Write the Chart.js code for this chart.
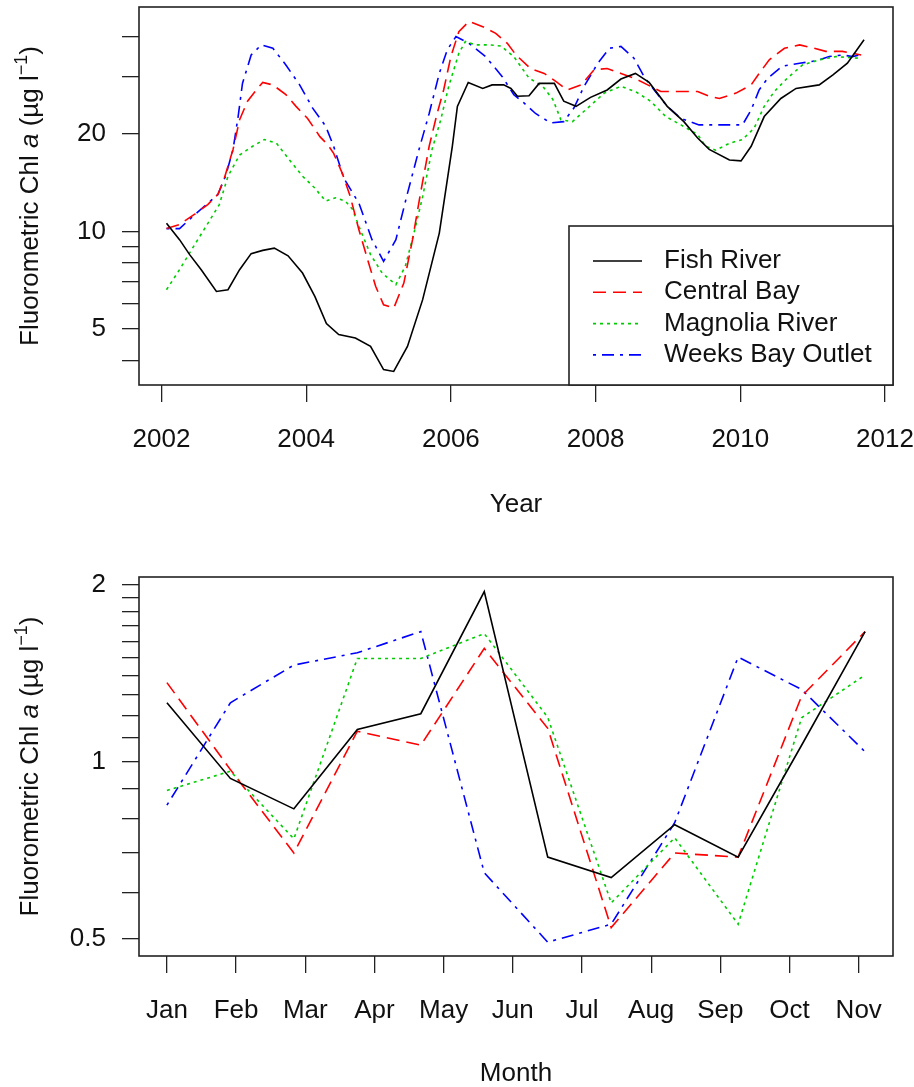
<!DOCTYPE html>
<html>
<head>
<meta charset="utf-8">
<script src="https://cdn.jsdelivr.net/npm/chart.js@4/dist/chart.umd.min.js"></script>
<style>
  body { margin: 0; background: #fff; }
  canvas { display: block; }
</style>
</head>
<body>
<canvas id="yearly" width="914" height="540"></canvas>
<canvas id="monthly" width="914" height="547"></canvas>
<script>
// ---- data ----
const fishYear  = [2002.07, 2002.25, 2002.39, 2002.55, 2002.76, 2002.92, 2003.08, 2003.24, 2003.40, 2003.56,
                   2003.75, 2003.95, 2004.12, 2004.28, 2004.45, 2004.68, 2004.89, 2005.07, 2005.21, 2005.40,
                   2005.61, 2005.84, 2006.02, 2006.09, 2006.24, 2006.44, 2006.57, 2006.73, 2006.83, 2006.92,
                   2007.08, 2007.22, 2007.43, 2007.56, 2007.73, 2007.93, 2008.16, 2008.35, 2008.55, 2008.74,
                   2008.99, 2009.22, 2009.41, 2009.57, 2009.85, 2010.01, 2010.15, 2010.33, 2010.56, 2010.77,
                   2011.09, 2011.28, 2011.48, 2011.71];
const fishChl   = [10.6, 9.43, 8.48, 7.62, 6.53, 6.61, 7.62, 8.54, 8.74, 8.88,
                   8.41, 7.44, 6.30, 5.2, 4.81, 4.69, 4.42, 3.75, 3.70, 4.42,
                   6.16, 9.88, 18.3, 24.3, 28.8, 27.6, 28.3, 28.3, 27.6, 26.1,
                   26.2, 28.6, 28.6, 25.2, 24.3, 25.9, 27.3, 29.5, 30.7, 28.8,
                   24.3, 21.8, 19.4, 17.9, 16.6, 16.5, 18.3, 22.6, 25.7, 27.6,
                   28.3, 30.4, 33.0, 39.0];

const bayYear   = [2002.07, 2002.25, 2002.46, 2002.64, 2002.78, 2002.87, 2002.99, 2003.08, 2003.19, 2003.31,
                   2003.40, 2003.54, 2003.72, 2003.86, 2004.02, 2004.19, 2004.30, 2004.38, 2004.50, 2004.61,
                   2004.73, 2004.85, 2004.96, 2005.07, 2005.21, 2005.35, 2005.47, 2005.58, 2005.70, 2005.81,
                   2005.90, 2006.00, 2006.11, 2006.25, 2006.44, 2006.62, 2006.78, 2006.90, 2007.10, 2007.29,
                   2007.45, 2007.61, 2007.80, 2007.98, 2008.16, 2008.35, 2008.53, 2008.72, 2008.90, 2009.13,
                   2009.41, 2009.57, 2009.71, 2009.94, 2010.15, 2010.26, 2010.40, 2010.61, 2010.82, 2011.02,
                   2011.18, 2011.41, 2011.67];
const bayChl    = [10.2, 10.5, 11.3, 12.1, 13.0, 14.6, 17.9, 22.1, 25.2, 27.3,
                   28.8, 28.3, 26.4, 24.3, 22.3, 19.6, 18.5, 17.4, 15.1, 12.8,
                   10.1, 8.18, 6.77, 5.94, 5.80, 6.93, 9.43, 13.1, 18.3, 23.1,
                   27.3, 34.6, 41.3, 44.4, 42.8, 40.8, 38.0, 35.0, 31.8, 30.7,
                   29.0, 27.3, 28.3, 31.5, 31.8, 30.7, 29.7, 28.3, 27.0, 27.0,
                   27.0, 26.1, 25.7, 26.7, 28.3, 30.7, 33.8, 36.7, 37.6, 36.7,
                   35.9, 35.9, 35.0];

const magYear   = [2002.07, 2002.25, 2002.43, 2002.62, 2002.80, 2002.92, 2003.08, 2003.26, 2003.42, 2003.59,
                   2003.77, 2003.95, 2004.12, 2004.27, 2004.41, 2004.54, 2004.64, 2004.75, 2004.89, 2005.05,
                   2005.24, 2005.37, 2005.49, 2005.61, 2005.74, 2005.86, 2005.97, 2006.11, 2006.20, 2006.34,
                   2006.53, 2006.69, 2006.87, 2007.08, 2007.27, 2007.41, 2007.52, 2007.68, 2007.89, 2008.12,
                   2008.35, 2008.55, 2008.76, 2008.97, 2009.18, 2009.41, 2009.52, 2009.66, 2009.85, 2010.03,
                   2010.19, 2010.33, 2010.47, 2010.65, 2010.86, 2011.09, 2011.32, 2011.64];
const magChl    = [6.61, 7.62, 8.88, 10.4, 12.1, 14.8, 17.2, 18.3, 19.2, 18.7,
                   16.6, 14.8, 13.6, 12.4, 12.7, 12.4, 11.7, 10.1, 8.48, 7.44,
                   6.85, 7.80, 9.88, 12.8, 17.9, 22.1, 28.0, 35.4, 38.5, 37.6,
                   37.6, 37.3, 34.6, 29.7, 28.0, 25.5, 22.1, 21.8, 24.0, 26.7,
                   28.0, 27.0, 25.2, 22.6, 21.3, 19.9, 18.3, 17.8, 18.7, 19.2,
                   20.8, 24.3, 27.0, 29.7, 32.6, 33.8, 34.6, 34.2];

const weeksYear = [2002.07, 2002.25, 2002.43, 2002.62, 2002.78, 2002.89, 2002.99, 2003.06, 2003.12, 2003.24,
                   2003.38, 2003.54, 2003.72, 2003.91, 2004.09, 2004.27, 2004.38, 2004.52, 2004.73, 2004.91,
                   2005.07, 2005.24, 2005.40, 2005.56, 2005.70, 2005.84, 2005.95, 2006.07, 2006.25, 2006.48,
                   2006.71, 2006.87, 2007.01, 2007.17, 2007.38, 2007.56, 2007.70, 2007.84, 2008.03, 2008.19,
                   2008.35, 2008.53, 2008.67, 2008.81, 2008.99, 2009.18, 2009.43, 2009.66, 2009.85, 2010.03,
                   2010.15, 2010.26, 2010.38, 2010.58, 2010.82, 2011.05, 2011.23, 2011.41, 2011.55, 2011.65];
const weeksChl  = [10.2, 10.2, 11.1, 12.1, 13.0, 14.9, 17.9, 22.6, 28.6, 35.0,
                   37.6, 36.7, 32.6, 28.3, 24.0, 21.1, 18.3, 14.6, 12.2, 9.43,
                   8.08, 9.43, 13.1, 17.9, 23.1, 30.7, 36.3, 39.9, 38.0, 34.6,
                   30.0, 26.4, 24.9, 23.1, 21.6, 21.8, 24.0, 28.0, 33.0, 36.7,
                   37.2, 34.2, 30.0, 27.3, 24.3, 22.3, 21.3, 21.3, 21.3, 21.3,
                   23.7, 27.3, 29.7, 32.3, 33.0, 33.6, 34.6, 35.0, 34.6, 35.0];

// monthly means, one value per month (12 points)
const monthIndex = [1, 2, 3, 4, 5, 6, 7, 8, 9, 10, 11, 12];
const monthFish  = [1.26, 0.937, 0.832, 1.135, 1.207, 1.946, 0.689, 0.636, 0.782, 0.689, 1.067, 1.664];
const monthBay   = [1.363, 0.97, 0.700, 1.127, 1.067, 1.558, 1.14, 0.523, 0.700, 0.689, 1.293, 1.664];
const monthMag   = [0.894, 0.964, 0.740, 1.498, 1.498, 1.651, 1.19, 0.576, 0.743, 0.530, 1.188, 1.404];
const monthWeeks = [0.844, 1.26, 1.46, 1.532, 1.664, 0.648, 0.494, 0.530, 0.788, 1.506, 1.327, 1.04];

const siteNames   = ['Fish River', 'Central Bay', 'Magnolia River', 'Weeks Bay Outlet'];
const monthLabels = ['Jan', 'Feb', 'Mar', 'Apr', 'May', 'Jun', 'Jul', 'Aug', 'Sep', 'Oct', 'Nov'];
const monthTickStep = 1.09;
const yearTicks   = [2002, 2004, 2006, 2008, 2010, 2012];
const topYTicks   = [4, 5, 6, 7, 8, 9, 10, 20, 30, 40];
const topYLabels  = [5, 10, 20];
const botYTicks   = [0.5, 0.6, 0.7, 0.8, 0.9, 1, 1.1, 1.2, 1.3, 1.4, 1.5, 1.6, 1.7, 1.8, 1.9, 2];
const botYLabels  = [0.5, 1, 2];

// ---- styling ----
const FONT = "'Liberation Sans', Arial, sans-serif";
const FS = 26;
const INK = '#111';
const styles = [
  { color: '#000000', dash: [] },
  { color: '#FF0000', dash: [13, 7] },
  { color: '#00CD00', dash: [3, 4] },
  { color: '#0000FF', dash: [3, 6, 12, 6] }
];

Chart.defaults.font.family = FONT;
Chart.defaults.font.size = FS;
Chart.defaults.color = INK;

const toPoints = (xs, ys) => xs.map((x, i) => ({ x, y: ys[i] }));

function makeDatasets(seriesList) {
  return seriesList.map((pts, i) => ({
    label: siteNames[i],
    data: pts,
    borderColor: styles[i].color,
    borderDash: styles[i].dash,
    borderWidth: 1.6,
    pointRadius: 0,
    tension: 0,
    fill: false
  }));
}

// box round the plot region
const frame = {
  id: 'frame',
  afterDraw(chart) {
    const { ctx, chartArea: a } = chart;
    ctx.save();
    ctx.strokeStyle = '#222';
    ctx.lineWidth = 1.6;
    ctx.strokeRect(a.left, a.top, a.right - a.left, a.bottom - a.top);
    ctx.restore();
  }
};

// rotated y title with italic "a" and superscript -1
const yTitle = {
  id: 'yTitle',
  afterDraw(chart) {
    const { ctx, chartArea: a } = chart;
    const parts = [
      { t: 'Fluorometric Chl ', f: `${FS}px ${FONT}` },
      { t: 'a', f: `italic ${FS}px ${FONT}` },
      { t: ' (\u00b5g l', f: `${FS}px ${FONT}` },
      { t: '\u22121', f: `${Math.round(FS * 0.7)}px ${FONT}`, up: 11 },
      { t: ')', f: `${FS}px ${FONT}` }
    ];
    ctx.save();
    let total = 0;
    parts.forEach(p => { ctx.font = p.f; p.w = ctx.measureText(p.t).width; total += p.w; });
    ctx.translate(38, (a.top + a.bottom) / 2);
    ctx.rotate(-Math.PI / 2);
    ctx.fillStyle = INK;
    ctx.textBaseline = 'alphabetic';
    let x = -total / 2;
    parts.forEach(p => { ctx.font = p.f; ctx.fillText(p.t, x, -(p.up || 0)); x += p.w; });
    ctx.restore();
  }
};

// legend box in the lower right corner of the plot
const legendBox = {
  id: 'legendBox',
  afterDraw(chart) {
    const { ctx, chartArea: a } = chart;
    const w = 324, h = 159;
    const left = a.right - w, top = a.bottom - h;
    ctx.save();
    ctx.fillStyle = '#fff';
    ctx.fillRect(left, top, w, h);
    ctx.strokeStyle = '#222';
    ctx.lineWidth = 1.6;
    ctx.strokeRect(left, top, w, h);
    ctx.font = `${FS}px ${FONT}`;
    ctx.textBaseline = 'middle';
    chart.data.datasets.forEach((ds, i) => {
      const y = top + 35 + i * 31.3;
      ctx.strokeStyle = ds.borderColor;
      ctx.lineWidth = ds.borderWidth;
      ctx.setLineDash(ds.borderDash);
      ctx.beginPath();
      ctx.moveTo(left + 24, y);
      ctx.lineTo(left + 73, y);
      ctx.stroke();
      ctx.setLineDash([]);
      ctx.fillStyle = INK;
      ctx.fillText(ds.label, left + 95, y);
    });
    ctx.restore();
  }
};

const tickGrid = { drawOnChartArea: false, drawTicks: true, tickLength: 17, color: '#222', lineWidth: 1.3 };

function yAxis(min, max, ticks, labelled) {
  return {
    type: 'logarithmic',
    min, max,
    grid: tickGrid,
    border: { display: false },
    afterBuildTicks: s => { s.ticks = ticks.map(v => ({ value: v })); },
    afterFit: s => { s.width = 139; s.paddingTop = 0; s.paddingBottom = 0; },
    ticks: {
      autoSkip: false,
      padding: 16,
      callback: v => labelled.includes(v) ? String(v) : ''
    }
  };
}

function xFit(height) {
  return s => { s.height = height; s.paddingLeft = 0; s.paddingRight = 0; };
}

// ---- top: time series ----
new Chart(document.getElementById('yearly'), {
  type: 'line',
  data: {
    datasets: makeDatasets([
      toPoints(fishYear, fishChl),
      toPoints(bayYear, bayChl),
      toPoints(magYear, magChl),
      toPoints(weeksYear, weeksChl)
    ])
  },
  options: {
    responsive: false,
    animation: false,
    devicePixelRatio: 1,
    layout: { padding: { left: 0, right: 21, top: 7, bottom: 0 } },
    plugins: { legend: { display: false }, tooltip: { enabled: false } },
    scales: {
      x: {
        type: 'linear',
        min: 2001.69, max: 2012.11,
        grid: tickGrid,
        border: { display: false },
        afterBuildTicks: s => { s.ticks = yearTicks.map(v => ({ value: v })); },
        afterFit: xFit(155),
        ticks: { autoSkip: false, maxRotation: 0, padding: 22, callback: v => String(v) },
        title: { display: true, text: 'Year', font: { size: FS, lineHeight: 1 }, padding: { top: 0, bottom: 22 } }
      },
      y: yAxis(3.36, 49.2, topYTicks, topYLabels)
    }
  },
  plugins: [frame, yTitle, legendBox]
});

// ---- bottom: monthly ----
new Chart(document.getElementById('monthly'), {
  type: 'line',
  data: {
    datasets: makeDatasets([
      toPoints(monthIndex, monthFish),
      toPoints(monthIndex, monthBay),
      toPoints(monthIndex, monthMag),
      toPoints(monthIndex, monthWeeks)
    ])
  },
  options: {
    responsive: false,
    animation: false,
    devicePixelRatio: 1,
    layout: { padding: { left: 0, right: 21, top: 37, bottom: 0 } },
    plugins: { legend: { display: false }, tooltip: { enabled: false } },
    scales: {
      x: {
        type: 'linear',
        min: 0.56, max: 12.44,
        grid: tickGrid,
        border: { display: false },
        afterBuildTicks: s => { s.ticks = monthLabels.map((m, i) => ({ value: 1 + i * monthTickStep })); },
        afterFit: xFit(131),
        ticks: { autoSkip: false, maxRotation: 0, padding: 22, callback: (v, i) => monthLabels[i] },
        title: { display: true, text: 'Month', font: { size: FS, lineHeight: 1 }, padding: { top: 0, bottom: 0 } }
      },
      y: yAxis(0.468, 2.06, botYTicks, botYLabels)
    }
  },
  plugins: [frame, yTitle]
});
</script>
</body>
</html>
